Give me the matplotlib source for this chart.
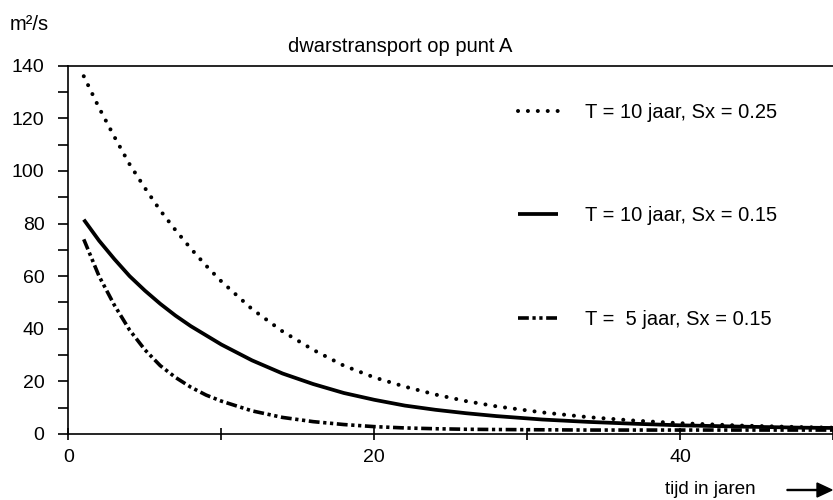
import numpy as np
import matplotlib
matplotlib.use('Agg')
import matplotlib.pyplot as plt

plt.rcParams['font.family'] = ['Liberation Sans', 'DejaVu Sans']

# tijd in jaren
jaren = [1, 2, 3, 4, 5, 6, 7, 8, 9, 10, 12, 14, 16, 18, 20, 22, 24, 26, 28,
         31, 34, 37, 40, 44, 48, 50]

# dwarstransport (m2/s) per scenario
t10_sx025 = [136, 124, 113, 102.5, 93.5, 85, 77.5, 70.5, 64, 58, 47.5, 39, 32,
             26, 21.5, 18, 15, 12.5, 10.5, 8.2, 6.4, 5.1, 4.1, 3.2, 2.6, 2.4]
t10_sx015 = [81.5, 73.5, 66.5, 60, 54.5, 49.5, 45, 41, 37.5, 34, 28, 23, 19,
             15.6, 13, 10.8, 9.2, 7.9, 6.8, 5.5, 4.6, 3.9, 3.3, 2.8, 2.4, 2.3]
t5_sx015 = [74, 60, 49, 39.5, 32, 26, 21.5, 17.8, 14.8, 12.5, 8.8, 6.3, 4.7,
            3.6, 2.8, 2.3, 2.0, 1.8, 1.7, 1.6, 1.5, 1.5, 1.5, 1.5, 1.5, 1.5]

labels = ['T = 10 jaar, Sx = 0.25',
          'T = 10 jaar, Sx = 0.15',
          'T =  5 jaar, Sx = 0.15']

fig = plt.figure(figsize=(8.33, 5.0), dpi=100)
ax = fig.add_axes([0.0822, 0.132, 0.9178, 0.7366])

ax.plot(jaren, t10_sx025, color='black', lw=2.9, linestyle=(0, (0.01, 2.45)),
        dash_capstyle='round', label=labels[0])
ax.plot(jaren, t10_sx015, color='black', lw=2.7, linestyle='-',
        solid_capstyle='butt', label=labels[1])
ax.plot(jaren, t5_sx015, color='black', lw=2.6,
        linestyle=(0, (3.0, 1.0, 0.9, 1.0, 0.9, 1.0)), label=labels[2])

ax.set_xlim(0, 49.4)
ax.set_ylim(0, 140)
ax.set_xticks([0, 20, 40])
ax.set_xticks([10, 30, 50], minor=True)
ax.set_yticks(np.arange(0, 141, 20))
ax.set_yticks(np.arange(10, 140, 20), minor=True)

for side in ['left', 'bottom', 'top']:
    ax.spines[side].set_linewidth(1.2)
ax.spines['right'].set_visible(False)

ax.tick_params(axis='y', which='both', direction='out', length=7.2, width=1.2,
               pad=10, labelsize=14)
ax.tick_params(axis='x', which='both', direction='inout', length=8, width=1.2,
               pad=7, labelsize=14)

leg = ax.legend(loc='upper left', bbox_to_anchor=(0.588, 0.899), frameon=False,
                fontsize=14.5, handlelength=2.0, handletextpad=1.35,
                labelspacing=4.2, borderpad=0, borderaxespad=0)

fig.text(400 / 833, 1 - 46 / 500, 'dwarstransport op punt A', fontsize=14.5,
         ha='center', va='center')
fig.text(10 / 833, 1 - 25 / 500, 'm²/s', fontsize=14.5, ha='left', va='center')
fig.text(665 / 833, 1 - 490 / 500, 'tijd in jaren', fontsize=13.5,
         ha='left', va='center')
fig.patches.append(plt.matplotlib.patches.FancyArrow(
    787 / 833, 1 - 490 / 500, 45 / 833, 0, width=0.002, head_width=0.028,
    head_length=0.018, length_includes_head=True, color='black',
    transform=fig.transFigure))

fig.savefig('out.png', dpi=100)
